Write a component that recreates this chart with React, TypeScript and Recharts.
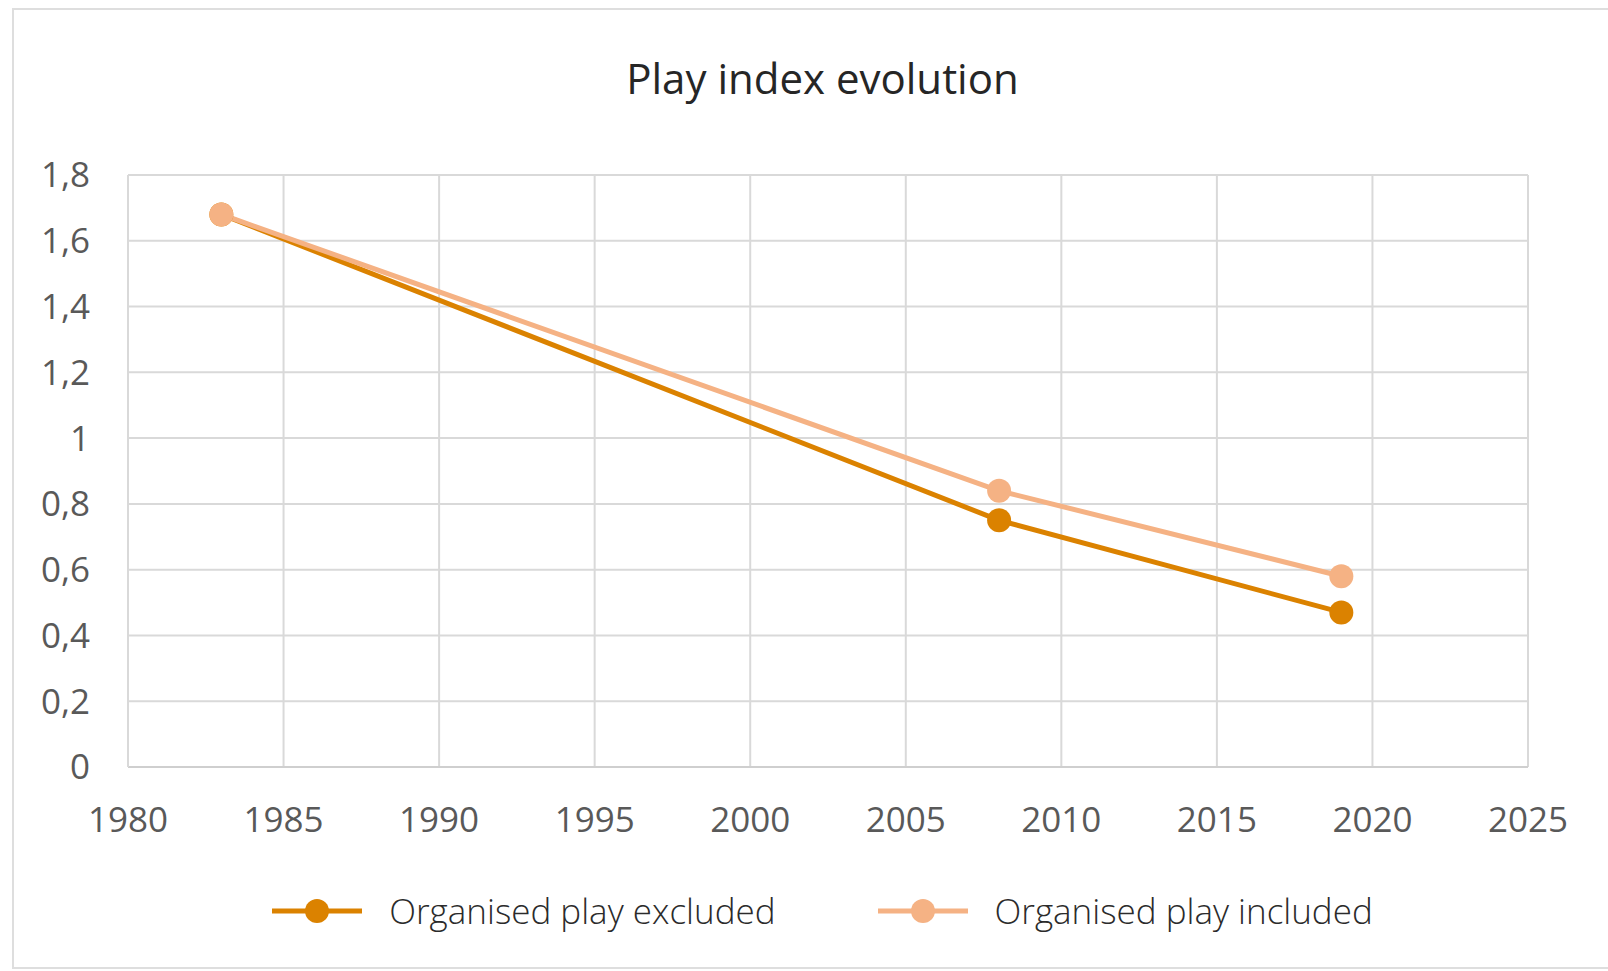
import React from "react";
import { LineChart, Line, XAxis, YAxis, CartesianGrid, Legend } from "recharts";

const years = [1983, 2008, 2019];
const excludedValues = [1.68, 0.75, 0.47];
const includedValues = [1.68, 0.84, 0.58];
const xTicks = [1980, 1985, 1990, 1995, 2000, 2005, 2010, 2015, 2020, 2025];
const yTicks = [0, 0.2, 0.4, 0.6, 0.8, 1, 1.2, 1.4, 1.6, 1.8];

const seriesInfo = [
  { key: "excluded", name: "Organised play excluded", color: "#DB8200" },
  { key: "included", name: "Organised play included", color: "#F5B284" },
];

const data = years.map((year, i) => ({
  year,
  excluded: excludedValues[i],
  included: includedValues[i],
}));

const FONT = '"Open Sans", "Noto Sans", sans-serif';

function LegendContent() {
  return (
    <div style={{ display: "flex", justifyContent: "center", alignItems: "center", fontFamily: FONT }}>
      {seriesInfo.map((s, i) => (
        <div
          key={s.key}
          style={{ display: "flex", alignItems: "center", marginLeft: i === 0 ? 0 : 102 }}
        >
          <svg width={90} height={30}>
            <line x1={0} y1={15} x2={90} y2={15} stroke={s.color} strokeWidth={5} />
            <circle cx={45} cy={15} r={12} fill={s.color} />
          </svg>
          <span
            style={{
              marginLeft: 27,
              fontSize: 35,
              fontWeight: 300,
              color: "#2b2b2b",
            }}
          >
            {s.name}
          </span>
        </div>
      ))}
    </div>
  );
}

export default function App() {
  return (
    <div style={{ position: "relative", width: 1608, height: 971, overflow: "hidden", background: "#fff" }}>
      <style>{`body{margin:0}`}</style>
      <div
        style={{
          position: "absolute",
          left: 12,
          top: 8,
          width: 1640,
          height: 961,
          border: "2px solid #dedede",
          boxSizing: "border-box",
        }}
      />
      <div
        style={{
          position: "absolute",
          left: 0,
          width: 1645,
          top: 49,
          textAlign: "center",
          fontFamily: FONT,
          fontSize: 42,
          color: "#262626",
        }}
      >
        Play index evolution
      </div>
      <div style={{ position: "absolute", left: 0, top: 0 }}>
        <LineChart
          width={1608}
          height={971}
          data={data}
          margin={{ top: 175, right: 80, bottom: 144, left: 0 }}
        >
          <CartesianGrid stroke="#d9d9d9" strokeWidth={2} />
          <XAxis
            dataKey="year"
            type="number"
            domain={[1980, 2025]}
            ticks={xTicks}
            height={60}
            axisLine={{ stroke: "#cfcfcf", strokeWidth: 2 }}
            tickLine={false}
            tickSize={0}
            tickMargin={40}
            tick={{ fontSize: 35, fill: "#595959", fontFamily: FONT }}
          />
          <YAxis
            type="number"
            domain={[0, 1.8]}
            ticks={yTicks}
            width={128}
            axisLine={{ stroke: "#d9d9d9", strokeWidth: 2 }}
            tickLine={false}
            tickSize={0}
            tickMargin={38}
            tickFormatter={(v: number) => String(Math.round(v * 10) / 10).replace(".", ",")}
            tick={{ fontSize: 35, fill: "#595959", fontFamily: FONT }}
          />
          <Legend
            verticalAlign="middle"
            align="center"
            layout="horizontal"
            content={<LegendContent />}
            wrapperStyle={{ position: "absolute", top: 887, left: 0, width: 1645 }}
          />
          {seriesInfo.map((s) => (
            <Line
              key={s.key}
              dataKey={s.key}
              name={s.name}
              type="linear"
              stroke={s.color}
              strokeWidth={5}
              dot={{ r: 12, fill: s.color, stroke: s.color, strokeWidth: 0 }}
              activeDot={false}
              isAnimationActive={false}
            />
          ))}
        </LineChart>
      </div>
    </div>
  );
}
